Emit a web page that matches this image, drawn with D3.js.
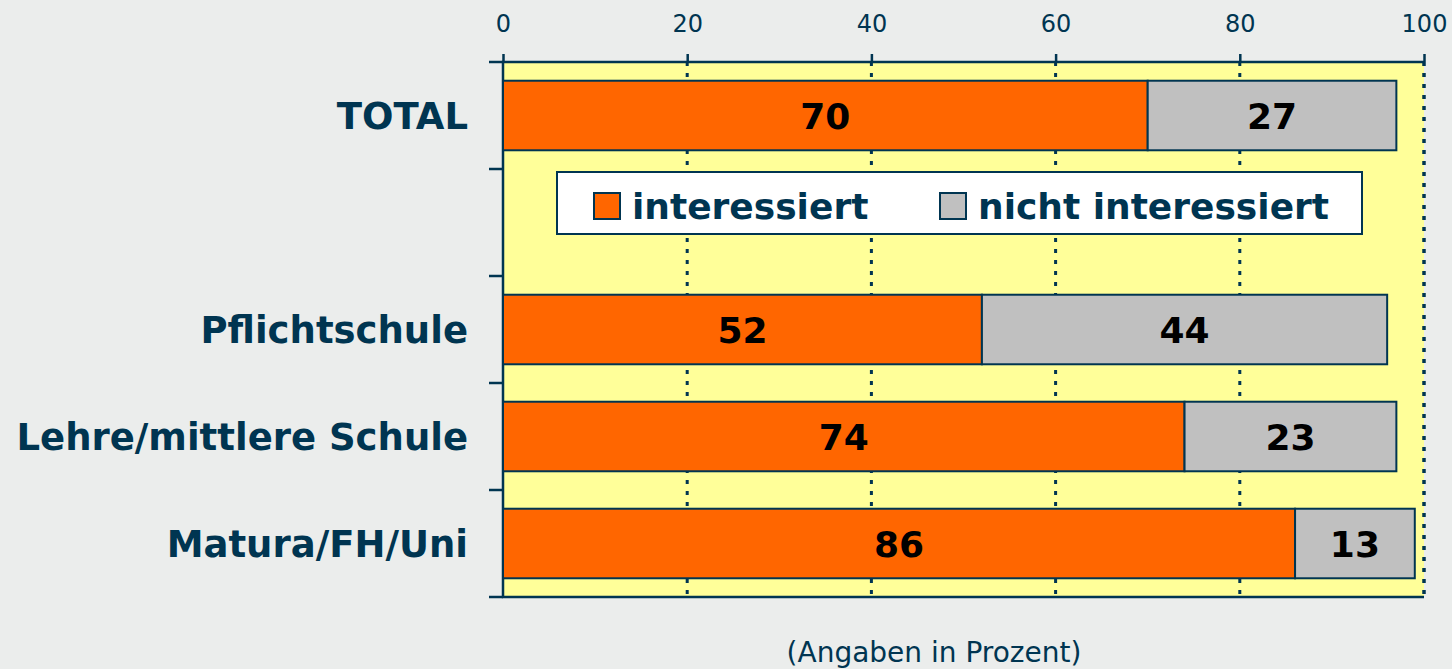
<!DOCTYPE html>
<html>
<head>
<meta charset="utf-8">
<script src="https://cdn.jsdelivr.net/npm/d3@7"></script>
<style>
  body { margin: 0; background: #ebedec; }
  svg { display: block; }
</style>
</head>
<body>
<svg width="1452" height="669"></svg>
<script>
// data
const categories = ["TOTAL", "", "Pflichtschule", "Lehre/mittlere Schule", "Matura/FH/Uni"];
const interessiert = [70, null, 52, 74, 86];
const nichtInteressiert = [27, null, 44, 23, 13];
const seriesNames = ["interessiert", "nicht interessiert"];
const xTicks = [0, 20, 40, 60, 80, 100];
const note = "(Angaben in Prozent)";

const navy = "#003551";
const colors = ["#ff6600", "#c0c0c0"];

const svg = d3.select("svg");

const plotLeft = 503, plotRight = 1424, plotTop = 62, plotBottom = 597;

let x = d3.scaleLinear().domain([0, 100]).range([plotLeft, plotRight]);
let y = d3.scaleBand()
  .domain(categories)
  .range([plotTop, plotBottom])
  .paddingInner(0.35)
  .paddingOuter(0.175);

// plot area
svg.append("rect")
  .attr("x", plotLeft).attr("y", plotTop)
  .attr("width", plotRight - plotLeft).attr("height", plotBottom - plotTop)
  .attr("fill", "#ffff99");

// dotted grid
svg.append("g")
  .selectAll("line")
  .data(xTicks.slice(1))
  .join("line")
    .attr("x1", d => x(d)).attr("x2", d => x(d))
    .attr("y1", plotTop).attr("y2", plotBottom)
    .attr("stroke", navy)
    .attr("stroke-width", 3)
    .attr("stroke-dasharray", "4,7");

// border lines (top, left, bottom solid)
svg.append("path")
  .attr("d", `M${plotRight},${plotTop}H${plotLeft}V${plotBottom}H${plotRight}`)
  .attr("fill", "none")
  .attr("stroke", navy)
  .attr("stroke-width", 2.5);

// top axis
const xAxis = svg.append("g")
  .attr("transform", `translate(0,${plotTop})`)
  .call(d3.axisTop(x).tickValues(xTicks).tickSize(8).tickPadding(22));
xAxis.select(".domain").remove();
xAxis.selectAll(".tick line").attr("stroke", navy).attr("stroke-width", 2.5);
xAxis.selectAll(".tick text")
  .attr("fill", navy)
  .attr("font-family", "DejaVu Sans")
  .attr("font-size", 24);

// left axis ticks at band boundaries
const boundaries = categories.map(c => y(c) - y.step() * y.paddingInner() / 2);
boundaries.push(plotBottom);
svg.append("g")
  .selectAll("line")
  .data(boundaries)
  .join("line")
    .attr("x1", plotLeft - 14).attr("x2", plotLeft)
    .attr("y1", d => d).attr("y2", d => d)
    .attr("stroke", navy)
    .attr("stroke-width", 2.5);

// category labels
svg.append("g")
  .selectAll("text")
  .data(categories)
  .join("text")
    .attr("x", 468)
    .attr("y", d => y(d) + y.bandwidth() / 2)
    .attr("dy", "0.36em")
    .attr("text-anchor", "end")
    .attr("font-family", "DejaVu Sans")
    .attr("font-weight", "bold")
    .attr("font-size", 37)
    .attr("fill", navy)
    .text(d => d);

// stacked bars
const rows = categories.map((c, i) => ({cat: c, a: interessiert[i], b: nichtInteressiert[i]}))
  .filter(d => d.a != null);

const segs = [];
rows.forEach(d => {
  segs.push({cat: d.cat, x0: 0, x1: d.a, v: d.a, s: 0});
  segs.push({cat: d.cat, x0: d.a, x1: d.a + d.b, v: d.b, s: 1});
});

svg.append("g")
  .selectAll("rect")
  .data(segs)
  .join("rect")
    .attr("x", d => x(d.x0))
    .attr("y", d => y(d.cat))
    .attr("width", d => x(d.x1) - x(d.x0))
    .attr("height", y.bandwidth())
    .attr("fill", d => colors[d.s])
    .attr("stroke", navy)
    .attr("stroke-width", 2);

svg.append("g")
  .selectAll("text")
  .data(segs)
  .join("text")
    .attr("x", d => (x(d.x0) + x(d.x1)) / 2)
    .attr("y", d => y(d.cat) + y.bandwidth() / 2)
    .attr("dy", "0.37em")
    .attr("text-anchor", "middle")
    .attr("font-family", "DejaVu Sans")
    .attr("font-weight", "bold")
    .attr("font-size", 36)
    .attr("fill", "#000")
    .text(d => d.v);

// right edge dashed at 100 (drawn over grid)
svg.append("line")
  .attr("x1", plotRight).attr("x2", plotRight)
  .attr("y1", plotTop).attr("y2", plotBottom)
  .attr("stroke", navy)
  .attr("stroke-width", 3)
  .attr("stroke-dasharray", "4,7");

// legend
const legend = svg.append("g").attr("transform", "translate(557,172)");
legend.append("rect")
  .attr("width", 805).attr("height", 62)
  .attr("fill", "#fff")
  .attr("stroke", navy)
  .attr("stroke-width", 2);

const legendX = [37, 383];
const items = legend.selectAll("g")
  .data(seriesNames)
  .join("g")
    .attr("transform", (d, i) => `translate(${legendX[i]},21)`);
items.append("rect")
  .attr("width", 26).attr("height", 26)
  .attr("fill", (d, i) => colors[i])
  .attr("stroke", navy)
  .attr("stroke-width", 2);
items.append("text")
  .attr("x", 38)
  .attr("y", 13)
  .attr("dy", "0.36em")
  .attr("font-family", "DejaVu Sans")
  .attr("font-weight", "bold")
  .attr("font-size", 36)
  .attr("fill", navy)
  .text(d => d);

// footnote
svg.append("text")
  .attr("x", 934)
  .attr("y", 662)
  .attr("text-anchor", "middle")
  .attr("font-family", "DejaVu Sans")
  .attr("font-size", 28)
  .attr("fill", navy)
  .text(note);
</script>
</body>
</html>
